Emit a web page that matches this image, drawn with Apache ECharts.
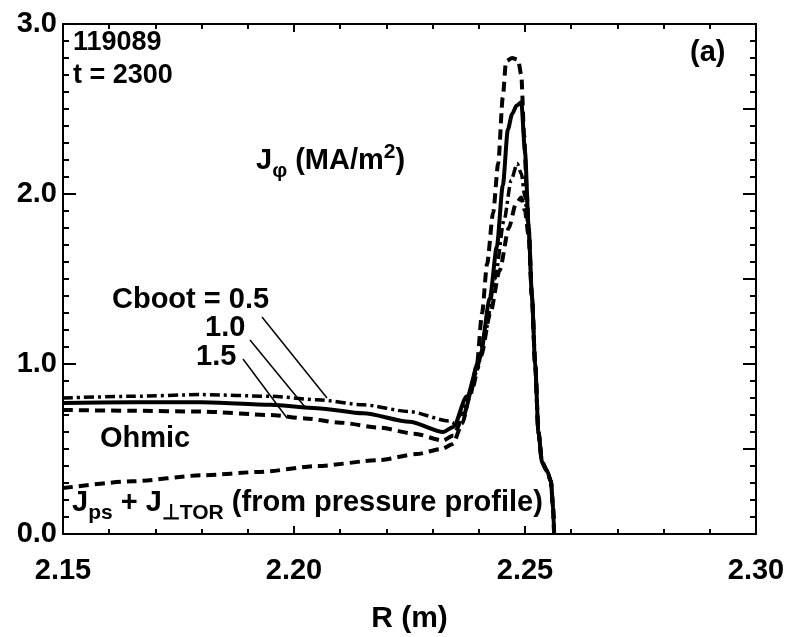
<!DOCTYPE html>
<html><head><meta charset="utf-8">
<script src="https://cdn.jsdelivr.net/npm/echarts@6/dist/echarts.min.js"></script>
<style>html,body{margin:0;padding:0;background:#fff}#c{width:790px;height:637px}</style>
</head><body><div id="c"></div>
<script>
// ---- data (R in m, J_phi in MA/m^2) ----
const xTickLabels = ['2.15', '2.20', '2.25', '2.30'];
const yTickLabels = ['0.0', '1.0', '2.0', '3.0'];

const rCboot05 = [2.150, 2.165, 2.180, 2.195, 2.205, 2.215, 2.225, 2.2335, 2.2348, 2.2360, 2.2375, 2.2395, 2.2415, 2.2435, 2.2455, 2.2470, 2.2483, 2.2492, 2.2500, 2.2508, 2.2515, 2.2522, 2.2529, 2.2537, 2.2548, 2.2556, 2.2561, 2.2563];
const jCboot05 = [0.80, 0.81, 0.82, 0.81, 0.79, 0.76, 0.72, 0.665, 0.65, 0.70, 0.80, 0.95, 1.20, 1.50, 1.85, 2.08, 2.18, 2.12, 1.98, 1.78, 1.40, 1.00, 0.60, 0.42, 0.37, 0.31, 0.15, 0.0];

const rCboot10 = [2.150, 2.165, 2.180, 2.195, 2.205, 2.215, 2.225, 2.2323, 2.2345, 2.2374, 2.2403, 2.2424, 2.2439, 2.2452, 2.2463, 2.2472, 2.2482, 2.2492, 2.2500, 2.2508, 2.2515, 2.2522, 2.2529, 2.2537, 2.2548, 2.2556, 2.2561, 2.2563];
const jCboot10 = [0.77, 0.775, 0.775, 0.76, 0.74, 0.71, 0.66, 0.60, 0.63, 0.81, 1.04, 1.39, 1.69, 2.05, 2.38, 2.47, 2.52, 2.54, 2.25, 1.80, 1.40, 1.00, 0.60, 0.42, 0.37, 0.31, 0.15, 0.0];

const rCboot15 = [2.150, 2.165, 2.180, 2.195, 2.2024, 2.210, 2.2186, 2.226, 2.2323, 2.2345, 2.2365, 2.2385, 2.2405, 2.2425, 2.2445, 2.2465, 2.2480, 2.2492, 2.2500, 2.2508, 2.2515, 2.2522, 2.2529, 2.2537, 2.2548, 2.2556, 2.2561, 2.2563];
const jCboot15 = [0.73, 0.725, 0.72, 0.70, 0.68, 0.655, 0.625, 0.59, 0.55, 0.58, 0.68, 0.85, 1.05, 1.30, 1.55, 1.80, 1.94, 1.98, 1.90, 1.75, 1.40, 1.00, 0.60, 0.42, 0.37, 0.31, 0.15, 0.0];

const rPressure = [2.150, 2.165, 2.180, 2.1926, 2.205, 2.2186, 2.2265, 2.2320, 2.2344, 2.2364, 2.2381, 2.2396, 2.2407, 2.2418, 2.2431, 2.2442, 2.2452, 2.2459, 2.2472, 2.2485, 2.2492, 2.2498, 2.2504, 2.2508, 2.2515, 2.2522, 2.2529, 2.2537, 2.2548, 2.2556, 2.2561, 2.2563];
const jPressure = [0.27, 0.31, 0.345, 0.365, 0.40, 0.435, 0.47, 0.50, 0.53, 0.65, 0.81, 1.00, 1.30, 1.59, 1.89, 2.18, 2.57, 2.78, 2.80, 2.79, 2.70, 2.35, 2.00, 1.80, 1.40, 1.00, 0.60, 0.42, 0.37, 0.31, 0.15, 0.0];

const zip = (xs, ys) => xs.map((x, i) => [x, ys[i]]);

const FONT = '"Liberation Sans", Arial, sans-serif';
const chart = echarts.init(document.getElementById('c'), null, {renderer: 'canvas'});

const lineSeries = (name, xs, ys, type, width) => ({
  name, type: 'line', data: zip(xs, ys), showSymbol: false, symbol: 'none',
  smooth: 0.25, smoothMonotone: 'x',
  lineStyle: {color: '#000', width: width, type: type, cap: 'butt'},
  z: 3
});

const axisCommon = {
  axisLine: {show: true, onZero: false, lineStyle: {color: '#000', width: 2}},
  splitLine: {show: false},
  minorSplitLine: {show: false}
};

const sub = (y) => ({fontSize: 21, fontWeight: 'bold', fontFamily: FONT, lineHeight: 20, padding: [y, 0, 0, 0], verticalAlign: 'top'});
const base = {fontSize: 29, fontWeight: 'bold', fontFamily: FONT, lineHeight: 32, verticalAlign: 'top'};

chart.setOption({
  animation: false,
  backgroundColor: '#fff',
  grid: {left: 63, right: 34, top: 24, bottom: 103, containLabel: false, outerBoundsMode: 'none'},
  xAxis: [
    Object.assign({}, axisCommon, {
      type: 'value', min: 2.15, max: 2.30, interval: 0.05, position: 'bottom',
      axisTick: {show: true, inside: true, length: 8, lineStyle: {color: '#000', width: 2}},
      minorTick: {show: true, splitNumber: 5, length: 5, lineStyle: {color: '#000', width: 2}},
      axisLabel: {
        color: '#000', fontSize: 29, fontWeight: 'bold', fontFamily: FONT, margin: 22,
        formatter: (v) => xTickLabels[Math.round((v - 2.15) / 0.05)] || ''
      },
      name: 'R (m)', nameLocation: 'middle', nameGap: 70,
      nameTextStyle: {color: '#000', fontSize: 30, fontWeight: 'bold', fontFamily: FONT}
    }),
    Object.assign({}, axisCommon, {
      type: 'value', min: 2.15, max: 2.30, interval: 0.05, position: 'top',
      axisTick: {show: true, inside: true, length: 8, lineStyle: {color: '#000', width: 2}},
      minorTick: {show: true, splitNumber: 5, length: 5, lineStyle: {color: '#000', width: 2}},
      axisLabel: {show: false}
    })
  ],
  yAxis: [
    Object.assign({}, axisCommon, {
      type: 'value', min: 0, max: 3, interval: 1, position: 'left',
      axisTick: {show: true, inside: true, length: 13, lineStyle: {color: '#000', width: 2}},
      minorTick: {show: true, splitNumber: 10, length: 6, lineStyle: {color: '#000', width: 2}},
      axisLabel: {
        color: '#000', fontSize: 29, fontWeight: 'bold', fontFamily: FONT, margin: 6,
        formatter: (v) => yTickLabels[Math.round(v)] || ''
      }
    }),
    Object.assign({}, axisCommon, {
      type: 'value', min: 0, max: 3, interval: 0.5, position: 'right',
      axisTick: {show: true, inside: true, length: 13, lineStyle: {color: '#000', width: 2}},
      minorTick: {show: true, splitNumber: 5, length: 6, lineStyle: {color: '#000', width: 2}},
      axisLabel: {show: false}
    })
  ],
  series: [
    lineSeries('Cboot = 0.5', rCboot05, jCboot05, [10, 4, 3, 4], 3.5),
    lineSeries('Cboot = 1.0', rCboot10, jCboot10, 'solid', 4),
    lineSeries('Cboot = 1.5', rCboot15, jCboot15, [10, 6], 4),
    lineSeries('Jps + J⊥TOR', rPressure, jPressure, [10, 6], 4)
  ],
  graphic: [
    {type: 'text', left: 73, top: 29, style: {text: '119089', font: 'bold 27px ' + FONT, fill: '#000'}},
    {type: 'text', left: 73, top: 62, style: {text: 't = 2300', font: 'bold 27px ' + FONT, fill: '#000'}},
    {type: 'text', left: 690, top: 38, style: {text: '(a)', font: 'bold 29px ' + FONT, fill: '#000'}},
    {type: 'text', left: 256, top: 142, style: {
      text: '{b|J}{s|φ}{b| (MA/m}{p|2}{b|)}', fill: '#000',
      rich: {b: base, s: sub(15), p: sub(-4)}
    }},
    {type: 'text', left: 112, top: 285, style: {text: 'Cboot = 0.5', font: 'bold 29px ' + FONT, fill: '#000'}},
    {type: 'text', left: 205, top: 313, style: {text: '1.0', font: 'bold 29px ' + FONT, fill: '#000'}},
    {type: 'text', left: 196, top: 342, style: {text: '1.5', font: 'bold 29px ' + FONT, fill: '#000'}},
    {type: 'text', left: 100, top: 424, style: {text: 'Ohmic', font: 'bold 29px ' + FONT, fill: '#000'}},
    {type: 'text', left: 72, top: 488, style: {
      text: '{b|J}{s|ps}{b| + J}{s|⊥TOR}{b| (from pressure profile)}', fill: '#000',
      rich: {b: base, s: sub(15)}
    }},
    {type: 'line', shape: {x1: 262, y1: 317, x2: 327, y2: 398}, style: {stroke: '#000', lineWidth: 1.5}},
    {type: 'line', shape: {x1: 250, y1: 340, x2: 305, y2: 407}, style: {stroke: '#000', lineWidth: 1.5}},
    {type: 'line', shape: {x1: 243, y1: 359, x2: 287, y2: 418}, style: {stroke: '#000', lineWidth: 1.5}}
  ]
});
</script></body></html>
